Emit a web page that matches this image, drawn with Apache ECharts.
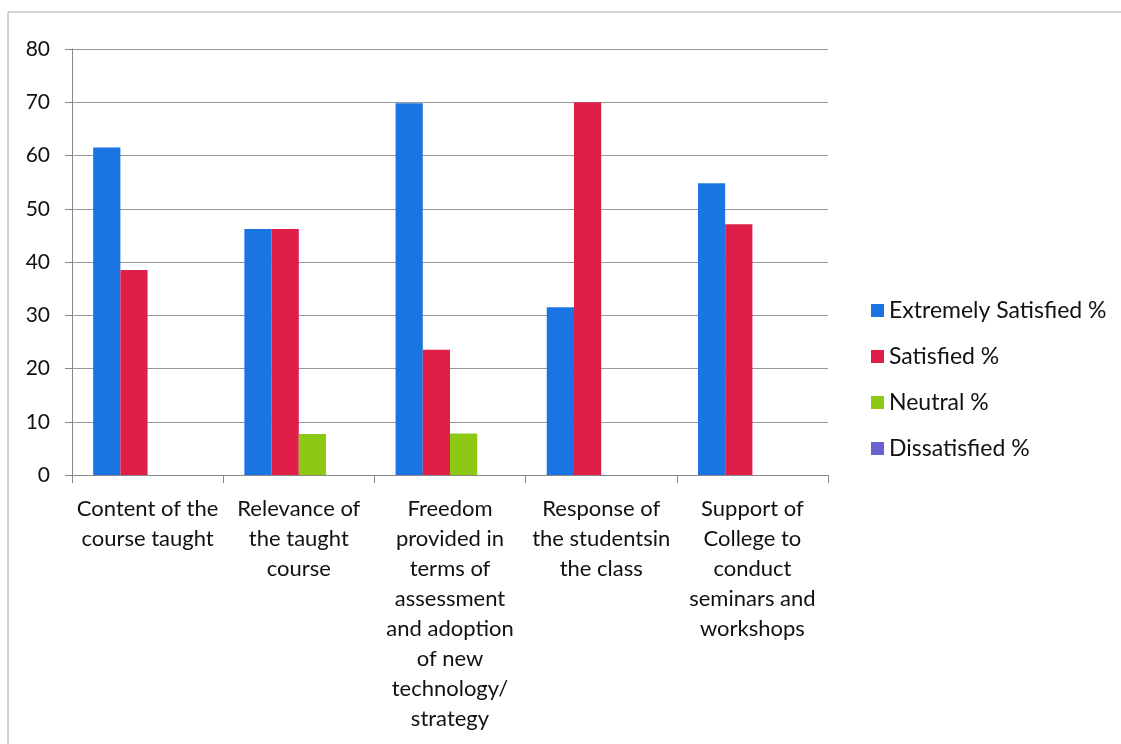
<!DOCTYPE html>
<html><head><meta charset="utf-8">
<script src="https://cdn.jsdelivr.net/npm/echarts@6/dist/echarts.min.js"></script>
<style>html,body{margin:0;padding:0;background:#fff}#c{width:1121px;height:744px}</style>
</head><body><div id="c"></div>
<script>
const categories = [
  "Content of the\ncourse taught",
  "Relevance of\nthe taught\ncourse",
  "Freedom\nprovided in\nterms of\nassessment\nand adoption\nof new\ntechnology/\nstrategy",
  "Response of\nthe studentsin\nthe class",
  "Support of\nCollege to\nconduct\nseminars and\nworkshops"
];
const extremelySatisfied = [61.5, 46.2, 69.8, 31.5, 54.8];
const satisfied = [38.5, 46.2, 23.5, 70.0, 47.1];
const neutral = [0, 7.7, 7.8, 0, 0];
const dissatisfied = [0, 0, 0, 0, 0];
const yTicks = [0, 10, 20, 30, 40, 50, 60, 70, 80];

const font = 'Lato, "Open Sans", sans-serif';
const chart = echarts.init(document.getElementById('c'), null, {renderer: 'canvas'});
const mk = (name, data, color) => ({
  name, type: 'bar', data, barGap: '0%', barCategoryGap: '28%',
  itemStyle: {color}
});
chart.setOption({
  backgroundColor: '#ffffff',
  animation: false,
  graphic: [{type: 'polyline', shape: {points: [[8, 744], [8, 12], [1121, 12]]}, style: {stroke: '#aaa', lineWidth: 1, fill: null}}],
  grid: {left: 72, right: 293, top: 49, bottom: 269},
  legend: {
    orient: 'vertical', left: 866, top: 294, itemWidth: 13, itemHeight: 13, itemGap: 23,
    icon: 'rect',
    textStyle: {fontFamily: font, fontSize: 23, color: '#111'},
    data: ['Extremely Satisfied %', 'Satisfied %', 'Neutral %', 'Dissatisfied %']
  },
  xAxis: {
    type: 'category', data: categories,
    axisLine: {lineStyle: {color: '#888'}},
    axisTick: {show: true, length: 8, lineStyle: {color: '#888'}},
    axisLabel: {interval: 0, fontFamily: font, fontSize: 22, color: '#111', lineHeight: 30, margin: 19}
  },
  yAxis: {
    type: 'value', min: yTicks[0], max: yTicks[yTicks.length - 1], interval: 10,
    axisLine: {show: true, lineStyle: {color: '#888'}},
    axisTick: {show: true, length: 7, lineStyle: {color: '#888'}},
    splitLine: {lineStyle: {color: '#999'}},
    axisLabel: {fontFamily: font, fontSize: 21, color: '#111', margin: 22}
  },
  series: [
    mk('Extremely Satisfied %', extremelySatisfied, '#1a74e2'),
    mk('Satisfied %', satisfied, '#e01f48'),
    mk('Neutral %', neutral, '#8cc814'),
    mk('Dissatisfied %', dissatisfied, '#6a62d0')
  ]
});
</script></body></html>
